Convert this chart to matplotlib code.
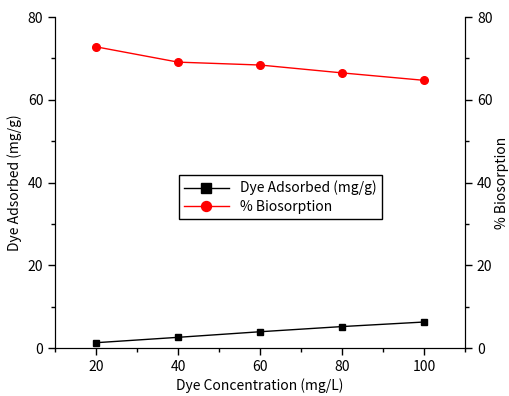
import matplotlib
matplotlib.use("Agg")
import matplotlib.pyplot as plt
from matplotlib.ticker import MultipleLocator

plt.rcParams['font.family'] = ['Noto Sans CJK KR', 'DejaVu Sans']
plt.rcParams['font.size'] = 10

conc = [20, 40, 60, 80, 100]
dye_adsorbed = [1.3, 2.6, 3.95, 5.2, 6.3]
biosorption = [72.8, 69.1, 68.4, 66.5, 64.7]

fig = plt.figure(figsize=(5.1, 3.96), dpi=100)
ax = fig.add_axes([0.108, 0.121, 0.804, 0.836])
ax2 = ax.twinx()

l1, = ax.plot(conc, dye_adsorbed, color='black', marker='s', markersize=5, lw=1, label='Dye Adsorbed (mg/g)')
l2, = ax2.plot(conc, biosorption, color='red', marker='o', markersize=5.5, lw=1, label='% Biosorption')

for a in (ax, ax2):
    a.set_ylim(0, 80)
    a.yaxis.set_major_locator(MultipleLocator(20))
    a.yaxis.set_minor_locator(MultipleLocator(10))
    a.spines['top'].set_visible(False)
    a.tick_params(which='both', direction='out', width=1)
    a.tick_params(which='major', length=5)
    a.tick_params(which='minor', length=3)
ax.set_xlim(10, 110)
ax.xaxis.set_major_locator(MultipleLocator(20))
ax.xaxis.set_minor_locator(MultipleLocator(10))

ax.set_xlabel('Dye Concentration (mg/L)', labelpad=3)
ax.set_ylabel('Dye Adsorbed (mg/g)', labelpad=4)
ax2.set_ylabel('% Biosorption', labelpad=2)

ax.legend(handles=[l1, l2], loc='center', bbox_to_anchor=(0.549, 0.456),
          fancybox=False, edgecolor='black', framealpha=1, handlelength=3.2,
          markerscale=1.3, borderpad=0.4, labelspacing=0.3)

fig.savefig('out.png', dpi=100)
